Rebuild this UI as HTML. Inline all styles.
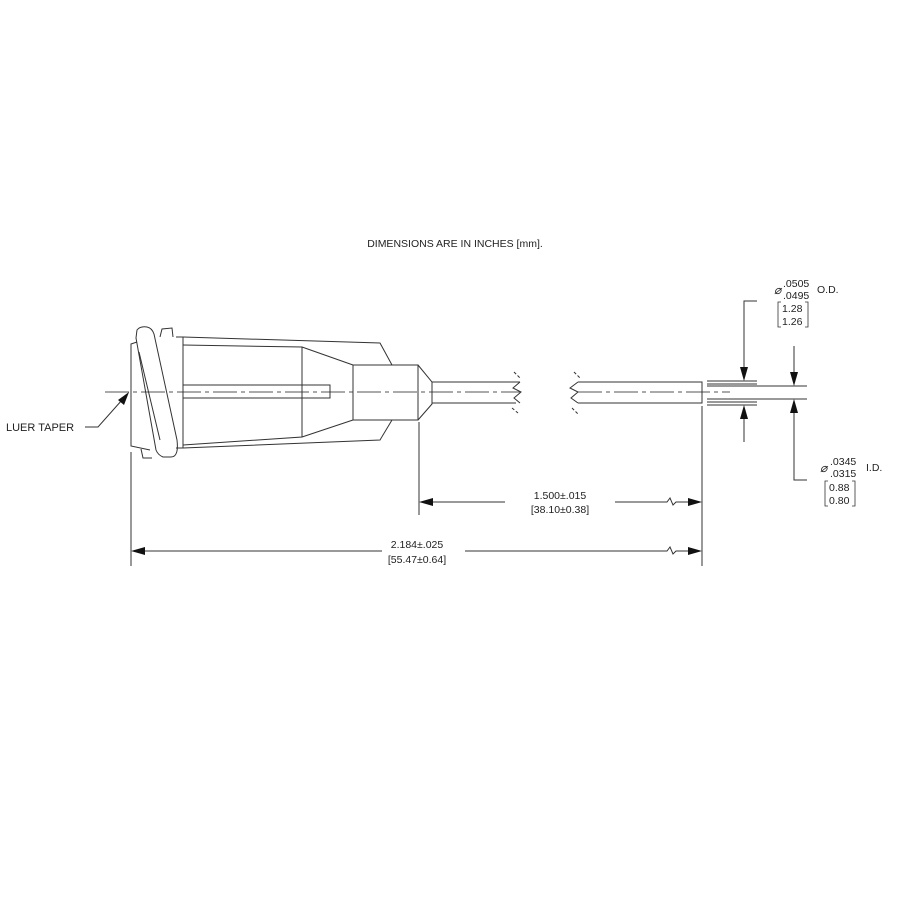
<!DOCTYPE html>
<html><head><meta charset="utf-8"><style>
html,body{margin:0;padding:0;background:#fff}
svg{display:block}
text{font-family:"Liberation Sans",sans-serif;fill:#222}
</style></head><body>
<svg width="900" height="900" viewBox="0 0 900 900" xmlns="http://www.w3.org/2000/svg">
<g stroke="#333" stroke-width="1" fill="none">
<line x1="105" y1="392" x2="520" y2="392" stroke-dasharray="24,4,4,4" stroke="#555"/>
<line x1="578" y1="392" x2="730" y2="392" stroke-dasharray="24,4,4,4" stroke="#555"/>
<path d="M137,342 L131,344 L131,446 L150,450"/>
<path d="M137,330 Q140,326 147,327 Q152,328 154,334 L177,440 Q179,457 171,457 L163,457 Q158,455 156,450 L136,338 Z"/>
<path d="M139,352 L160,440"/>
<path d="M160,337 L162,329 L172,328 L173,337"/>
<path d="M141,449 L143,458 L152,458"/>
<path d="M183,337 L380,343 L392,365"/>
<path d="M183,448 L380,440 L392,420"/>
<line x1="183" y1="337" x2="183" y2="448"/>
<line x1="176" y1="337" x2="183" y2="337"/>
<line x1="176" y1="448" x2="183" y2="448"/>
<path d="M183,345 L302,347 L302,437 L183,445"/>
<path d="M302,347 L353,365 M302,437 L353,420"/>
<rect x="353" y="365" width="65" height="55"/>
<path d="M183,385 L330,385 L330,398 L183,398"/>
<path d="M418,365 L432,382 L432,404 L418,420"/>
<path d="M432,382 L520,382 M432,403 L516,403"/>
<path d="M520,382 L513,388 L521,392 L514,398 L520,403"/>
<path d="M514,372 L520,378 M512,408 L518,413" stroke-dasharray="3,2"/>
<path d="M578,382 L702,382 L702,403 L578,403"/>
<path d="M578,382 L570,388 L578,392 L571,398 L578,403"/>
<path d="M574,372 L580,378 M572,408 L578,414" stroke-dasharray="3,2"/>
<path d="M707,381 L757,381 M707,384 L757,384 M707,402 L757,402 M707,405 L757,405"/>
<path d="M707,386 L807,386 M707,399 L807,399"/>
<path d="M757,301 L744,301 L744,370 M744,416 L744,442"/>
<path d="M794,346 L794,375 M794,410 L794,480 L807,480"/>
<line x1="131" y1="452" x2="131" y2="566"/>
<line x1="419" y1="422" x2="419" y2="515"/>
<line x1="702" y1="406" x2="702" y2="566"/>
<path d="M430,502 L505,502 M615,502 L667,502 L670,498 L673,505 L676,502 L690,502"/>
<path d="M142,551 L382,551 M465,551 L667,551 L670,547 L673,554 L676,551 L690,551"/>
<path d="M85,427 L98,427 L122,400"/>
<!-- brackets -->
<path d="M781,302 L778,302 L778,327 L781,327 M805,302 L808,302 L808,327 L805,327" stroke-width="0.8"/>
<path d="M828,481 L825,481 L825,506 L828,506 M852,481 L855,481 L855,506 L852,506" stroke-width="0.8"/>
</g>
<g fill="#111">
<path d="M744,381 L740,367 L748,367 Z"/>
<path d="M744,405 L740,419 L748,419 Z"/>
<path d="M794,386 L790,372 L798,372 Z"/>
<path d="M794,399 L790,413 L798,413 Z"/>
<path d="M419,502 L433,498 L433,506 Z"/>
<path d="M702,502 L688,498 L688,506 Z"/>
<path d="M131,551 L145,547 L145,555 Z"/>
<path d="M702,551 L688,547 L688,555 Z"/>
<path d="M129,392 L124,405 L118,400 Z"/>
</g>
<g font-size="10.5">
<text x="455" y="247" text-anchor="middle">DIMENSIONS ARE IN INCHES [mm].</text>
<text x="6" y="431" font-size="11">LUER TAPER</text>
<text x="560" y="499" text-anchor="middle">1.500±.015</text>
<text x="560" y="513" text-anchor="middle">[38.10±0.38]</text>
<text x="417" y="548" text-anchor="middle">2.184±.025</text>
<text x="417" y="563" text-anchor="middle">[55.47±0.64]</text>
<text x="774" y="294" font-size="12" font-style="italic">⌀</text>
<text x="783" y="287">.0505</text>
<text x="783" y="299">.0495</text>
<text x="817" y="293">O.D.</text>
<text x="782" y="312">1.28</text>
<text x="782" y="325">1.26</text>
<text x="820" y="472" font-size="12" font-style="italic">⌀</text>
<text x="830" y="465">.0345</text>
<text x="830" y="477">.0315</text>
<text x="866" y="471">I.D.</text>
<text x="829" y="491">0.88</text>
<text x="829" y="504">0.80</text>
</g>
</svg>
</body></html>
